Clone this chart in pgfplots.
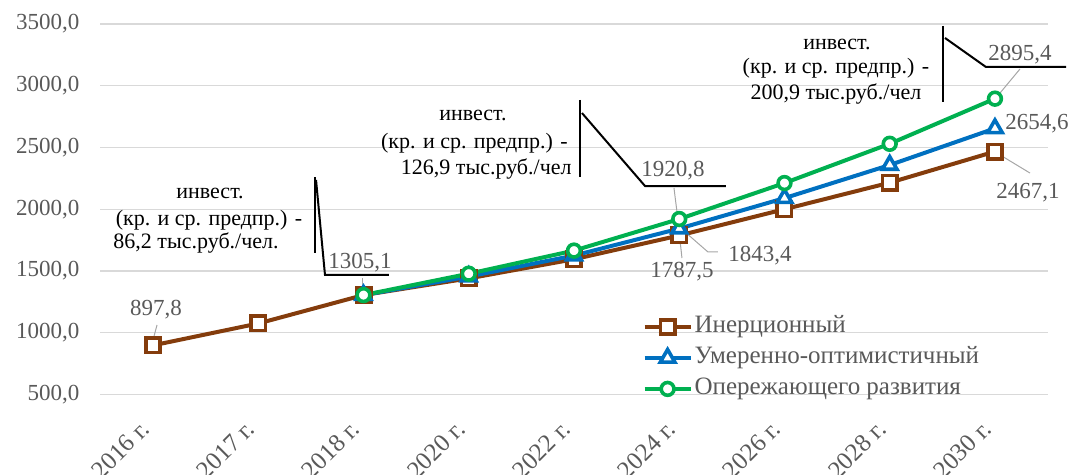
\documentclass[border=0pt]{standalone}
\usepackage{fontspec}
\setmainfont{Liberation Serif}
\usepackage{pgfplots}
\pgfplotsset{compat=1.18}
\definecolor{InertBrown}{HTML}{843C0C}
\definecolor{ModBlue}{HTML}{0070C0}
\definecolor{FastGreen}{HTML}{00B050}
\definecolor{TickGray}{HTML}{595959}
\definecolor{GridGray}{HTML}{D9D9D9}
\definecolor{LeadGray}{HTML}{A6A6A6}

\begin{document}
\begin{tikzpicture}[font=\fontsize{11.5}{13.8}\selectfont,
  dl/.style={text=TickGray, anchor=base, yshift=-3.5pt, inner sep=0pt},
  bt/.style={text=black, anchor=base, yshift=-3.5pt, inner sep=0pt,
    font=\fontsize{11}{13}\selectfont}]
\path[use as bounding box] (-50.2pt,-40.25pt) rectangle ++(536.5pt,237.5pt);
\clip (-50.2pt,-40.25pt) rectangle ++(536.5pt,237.5pt);
\begin{axis}[
  at={(0,0)}, anchor=south west,
  scale only axis,
  width=473.6pt, height=185.25pt,
  xmin=-0.5, xmax=8.5, ymin=500, ymax=3500,
  xtick={0,...,8},
  xticklabels={2016 г.,2017 г.,2018 г.,2020 г.,2022 г.,2024 г.,2026 г.,2028 г.,2030 г.},
  ytick={500,1000,...,3500},
  axis line style={draw=none},
  major tick length=0pt,
  ymajorgrids, grid style={GridGray, line width=0.6pt},
  tick label style={text=TickGray},
  xticklabel style={font=\fontsize{12.5}{15}\selectfont, xshift=-7pt, yshift=-12pt,
    rotate=45, anchor=north east, inner sep=0pt},
  yticklabel style={xshift=-7pt,
    /pgf/number format/fixed, /pgf/number format/fixed zerofill,
    /pgf/number format/precision=1, /pgf/number format/use comma,
    /pgf/number format/1000 sep={}, /pgf/number format/assume math mode=true},
  clip=false,
  legend cell align=left,
  legend style={at={(0.572,0.2132)}, anchor=north west, draw=none, fill=none,
    inner sep=0pt, row sep=4.5pt, column sep=1pt, text=TickGray,
    font=\fontsize{12.5}{15}\selectfont,
    nodes={inner sep=0pt, text height=8.5pt, text depth=2.5pt, anchor=west}},
  legend image code/.code={\draw[mark repeat=2,mark phase=2,#1]
    plot coordinates {(0pt,0pt) (11.5pt,0pt) (23pt,0pt)};},
]
\addplot[InertBrown, line width=2pt, mark=square*, mark size=3.6pt,
  mark options={fill=white, line width=1.8pt}] coordinates {
  (0,897.8) (1,1075) (2,1305.1) (3,1440) (4,1595) (5,1787.5) (6,2000) (7,2215) (8,2467.1)};
\addlegendentry{Инерционный}
\addplot[ModBlue, line width=2pt, mark=triangle*, mark size=4.2pt,
  mark options={fill=white, line width=1.8pt}] coordinates {
  (2,1305.1) (3,1455) (4,1625) (5,1843.4) (6,2090) (7,2358) (8,2654.6)};
\addlegendentry{Умеренно-оптимистичный}
\addplot[FastGreen, line width=2pt, mark=*, mark size=3.2pt,
  mark options={fill=white, line width=1.8pt}] coordinates {
  (2,1305.1) (3,1478) (4,1665) (5,1920.8) (6,2212) (7,2530) (8,2895.4)};
\addlegendentry{Опережающего развития}

% data labels and leaders
\draw[LeadGray, line width=0.5pt] (axis cs:0.038,1063) -- (axis cs:0,941);
\draw[LeadGray, line width=0.5pt] (axis cs:1.986,1443) -- (axis cs:1.986,1370);
\draw[LeadGray, line width=0.5pt] (axis cs:4.95,2172) -- (axis cs:4.98,1970);
\draw[LeadGray, line width=0.5pt] (axis cs:5.007,1751) -- (axis cs:5.026,1605);
\draw[LeadGray, line width=0.5pt] (axis cs:5.055,1816) -- (axis cs:5.273,1654) -- (axis cs:5.368,1654);
\draw[LeadGray, line width=0.5pt] (axis cs:8.238,3136) -- (axis cs:8.048,2941);
\draw[LeadGray, line width=0.5pt] (axis cs:8.019,2455) -- (axis cs:8.333,2293);
\node[dl] at (axis cs:0.029,1200) {897,8};
\node[dl] at (axis cs:1.967,1573) {1305,1};
\node[dl] at (axis cs:4.941,2318) {1920,8};
\node[dl] at (axis cs:5.026,1500) {1787,5};
\node[dl] at (axis cs:5.767,1630) {1843,4};
\node[dl] at (axis cs:8.238,3265) {2895,4};
\node[dl] at (axis cs:8.399,2706) {2654,6};
\node[dl] at (axis cs:8.314,2140) {2467,1};

% callouts
\draw[black, line width=1pt] (axis cs:1.539,2261) -- (axis cs:1.539,1646);
\draw[black, line width=1pt] (axis cs:1.549,2237) -- (axis cs:1.634,1468) -- (axis cs:2.242,1468);
\draw[black, line width=1pt] (axis cs:4.057,2885) -- (axis cs:4.057,2261);
\draw[black, line width=1pt] (axis cs:4.076,2779) -- (axis cs:4.675,2188) -- (axis cs:5.444,2188);
\draw[black, line width=1pt] (axis cs:7.506,3484) -- (axis cs:7.506,2868);
\draw[black, line width=1pt] (axis cs:7.525,3387) -- (axis cs:7.914,3152) -- (axis cs:8.675,3152);

\node[bt] at (axis cs:0.542,2140) {инвест.};
\node[bt] at (axis cs:0.532,1929) {(кр. и ср. предпр.) -};
\node[bt, anchor=base west] at (axis cs:-0.380,1735) {86,2 тыс.руб./чел.};
\node[bt] at (axis cs:3.04,2779) {инвест.};
\node[bt, anchor=base east] at (axis cs:3.943,2545) {(кр. и ср. предпр.) -};
\node[bt, anchor=base east] at (axis cs:3.981,2342) {126,9 тыс.руб./чел};
\node[bt] at (axis cs:6.499,3354) {инвест.};
\node[bt] at (axis cs:6.489,3152) {(кр. и ср. предпр.) -};
\node[bt] at (axis cs:6.489,2949) {200,9 тыс.руб./чел};
\end{axis}
\end{tikzpicture}
\end{document}
